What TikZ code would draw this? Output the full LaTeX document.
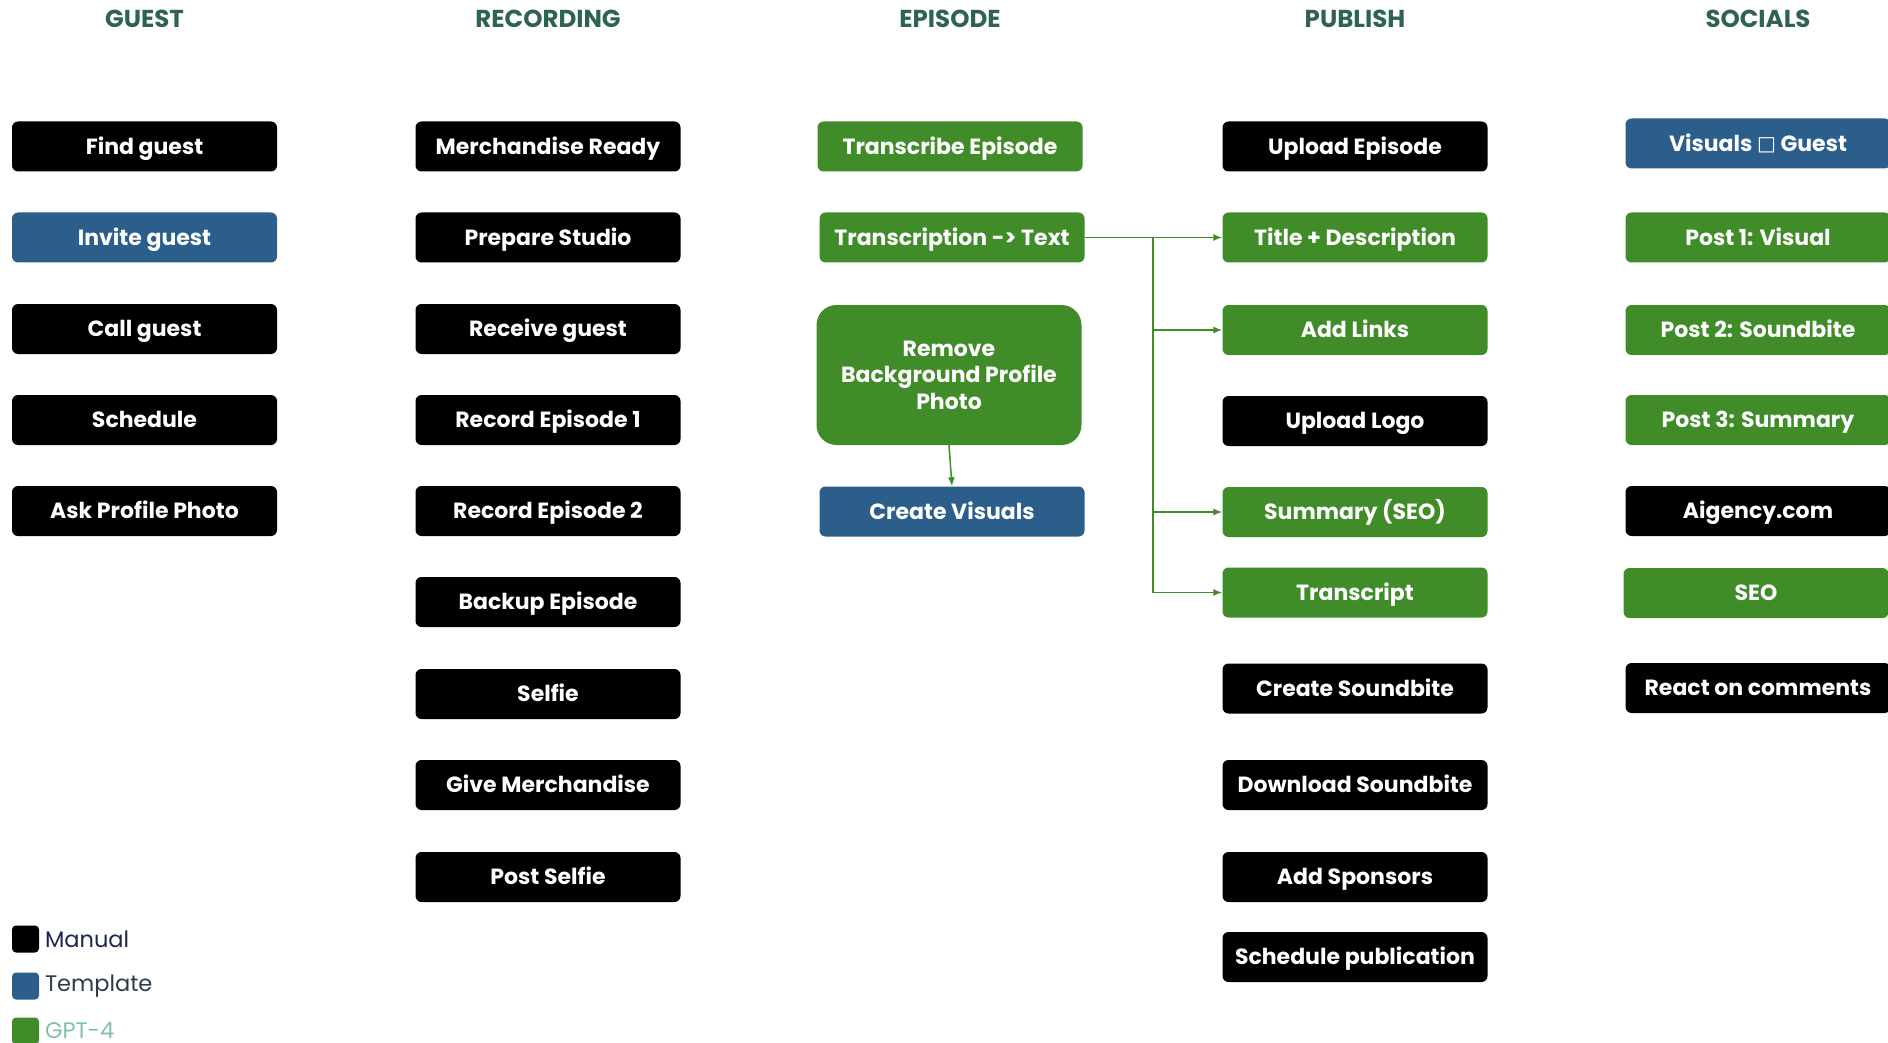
\documentclass[tikz,border=0pt]{standalone}
\usepackage{fontspec}
\setmainfont{Poppins}
\newfontfamily\glyphfont{DejaVu Sans}
\usetikzlibrary{arrows.meta,positioning}

\tikzset{
  boxtext/.style={text=white, inner sep=0pt, font=\fontsize{22}{26.5}\selectfont\bfseries},
  task/.style={boxtext, minimum width=265pt, minimum height=50pt,
    rounded corners=6pt, text height=15.4pt, text depth=0pt},
  manual/.style={task, fill=cman},
  templ/.style={task, fill=ctpl},
  gpt/.style={task, fill=cgpt},
  bigtask/.style={boxtext, minimum width=265pt, minimum height=140pt,
    rounded corners=20pt, align=center, fill=cgpt},
  colhead/.style={text=chead, font=\fontsize{24.5}{28}\selectfont\bfseries},
  flow/.style={draw=cgpt, line width=1.5pt, -{Latex[length=9pt,width=7pt]}},
  keybox/.style={minimum size=27pt, inner sep=0pt, rounded corners=4pt},
  keytext/.style={anchor=west, font=\fontsize{22.5}{27}\selectfont}
}

\begin{document}
\begin{tikzpicture}[x=1pt,y=-1pt]
%
\useasboundingbox (0,0) rectangle (1888,1043);
%
\definecolor{cman}{rgb}{0.0,0.0,0.0}
\definecolor{ctpl}{rgb}{0.17,0.37,0.54}
\definecolor{cgpt}{rgb}{0.25,0.55,0.16}
\definecolor{chead}{rgb}{0.18,0.39,0.31}
\definecolor{ckman}{rgb}{0.11,0.15,0.31}
\definecolor{cktpl}{rgb}{0.17,0.23,0.29}
\definecolor{ckgpt}{rgb}{0.49,0.76,0.64}
%
\node[colhead] (hg) at (144.5,19) {GUEST};
\node[colhead] (hr) at (548,19) {RECORDING};
\node[colhead] (he) at (950,19) {EPISODE};
\node[colhead] (hp) at (1355,19) {PUBLISH};
\node[colhead] (hs) at (1758,19) {SOCIALS};
%
\node[manual] (g1) at (144.5,146.5) {Find guest};
\node[templ]  (g2) at (144.5,237.5) {Invite guest};
\node[manual] (g3) at (144.5,329) {Call guest};
\node[manual] (g4) at (144.5,420) {Schedule};
\node[manual] (g5) at (144.5,511) {Ask Profile Photo};
%
\node[manual] (r1) at (548,146.5) {Merchandise Ready};
\node[manual] (r2) at (548,237.5) {Prepare Studio};
\node[manual] (r3) at (548,329) {Receive guest};
\node[manual] (r4) at (548,420) {Record Episode 1};
\node[manual] (r5) at (548,511) {Record Episode 2};
\node[manual] (r6) at (548,602) {Backup Episode};
\node[manual] (r7) at (548,694) {Selfie};
\node[manual] (r8) at (548,785) {Give Merchandise};
\node[manual] (r9) at (548,877) {Post Selfie};
%
\node[gpt]     (e1) at (950,146.5) {Transcribe Episode};
\node[gpt]     (e2) at (952,237.5) {Transcription -> Text};
\node[bigtask] (e3) at (949,375) {Remove\\Background Profile\\Photo};
\node[templ]   (e4) at (952,511.5) {Create Visuals};
%
\node[manual] (p1) at (1355,146.5) {Upload Episode};
\node[gpt]    (p2) at (1355,237.5) {Title + Description};
\node[gpt]    (p3) at (1355,330) {Add Links};
\node[manual] (p4) at (1355,421) {Upload Logo};
\node[gpt]    (p5) at (1355,512) {Summary (SEO)};
\node[gpt]    (p6) at (1355,592.5) {Transcript};
\node[manual] (p7) at (1355,688.5) {Create Soundbite};
\node[manual] (p8) at (1355,785) {Download Soundbite};
\node[manual] (p9) at (1355,877) {Add Sponsors};
\node[manual] (p10) at (1355,957) {Schedule publication};
%
\node[templ]  (s1) at (1758,143.5) {Visuals {\glyphfont\mdseries\fontsize{20}{22}\selectfont\raisebox{1pt}{□}} Guest};
\node[gpt]    (s2) at (1758,237.5) {Post 1: Visual};
\node[gpt]    (s3) at (1758,330) {Post 2: Soundbite};
\node[gpt]    (s4) at (1758,420) {Post 3: Summary};
\node[manual] (s5) at (1758,511) {Aigency.com};
\node[gpt]    (s6) at (1756,593) {SEO};
\node[manual] (s7) at (1758,688) {React on comments};
%
\coordinate (split) at (1153,237.5);
\draw[flow] (e2.east) -- (p2.west);
\draw[flow] (split) |- (p3.west);
\draw[flow] (split) |- (p5.west);
\draw[flow] (split) |- (p6.west);
\draw[flow] (e3.south) -- (e4.north);
%
\node[keybox, fill=cman] (k1) at (25.5,939) {};
\node[keybox, fill=ctpl] (k2) at (25.5,986) {};
\node[keybox, fill=cgpt] (k3) at (25.5,1031) {};
\node[keytext, text=ckman] (t1) at (41.5,939) {Manual};
\node[keytext, text=cktpl] (t2) at (41.5,986) {Template};
\node[keytext, text=ckgpt] (t3) at (41.5,1031) {GPT-4};
%
\end{tikzpicture}
\end{document}
